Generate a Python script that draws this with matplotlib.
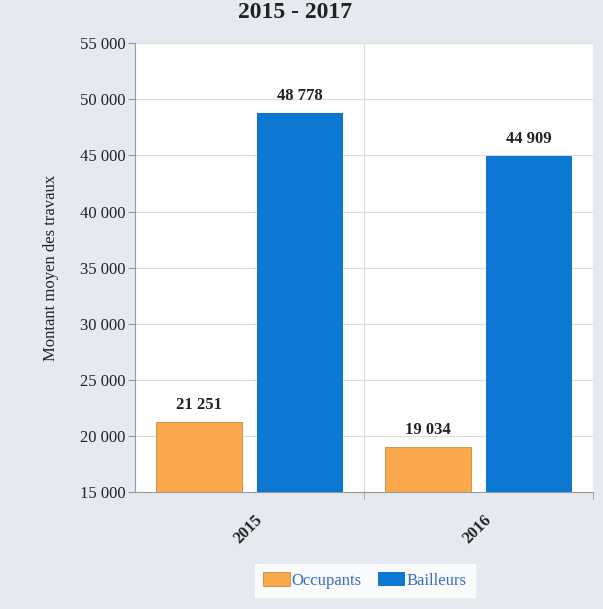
"""Montant moyen des travaux, occupants vs bailleurs, 2015-2016."""

import matplotlib.pyplot as plt
import numpy as np

years = ["2015", "2016"]
occupants = [21251, 19034]
bailleurs = [48778, 44909]
y_ticks = [15000, 20000, 25000, 30000, 35000, 40000, 45000, 50000, 55000]


def fmt(v):
    return f"{v:,}".replace(",", " ")


plt.rcParams["font.family"] = ["Liberation Serif", "DejaVu Serif"]

fig = plt.figure(figsize=(6.03, 6.09), dpi=100, facecolor="#e5e9f0")
ax = fig.add_axes([0.224, 0.192, 0.759, 0.737])
ax.set_facecolor("white")

centers = np.arange(len(years)) + 0.5
width = 0.375
offset = 0.22
ax.bar(centers - offset, occupants, width, color="#f9a94b",
       edgecolor="#c98a3c", linewidth=0.6, label="Occupants", zorder=3)
ax.bar(centers + offset, bailleurs, width, color="#0c78d2",
       label="Bailleurs", zorder=3)

for x, v in zip(centers - offset, occupants):
    ax.text(x, v + 800, fmt(v), ha="center", va="bottom",
            fontsize=12, fontweight="bold", color="#222222")
for x, v in zip(centers + offset, bailleurs):
    ax.text(x, v + 800, fmt(v), ha="center", va="bottom",
            fontsize=12, fontweight="bold", color="#222222")

ax.set_xlim(0, len(years))
ax.set_ylim(15000, 55000)
ax.set_yticks(y_ticks)
ax.set_yticklabels([fmt(t) for t in y_ticks], fontsize=12, color="#222222")
ax.set_xticks(centers + 0.02)
ax.set_xticklabels(years, rotation=45, ha="right", rotation_mode="anchor",
                   fontsize=12, fontweight="bold", color="#222222")
ax.tick_params(axis="x", length=0, pad=14)
ax.set_xticks([1, 2], minor=True)
ax.tick_params(axis="x", which="minor", length=5, color="#999999")
ax.tick_params(axis="y", length=5, color="#999999", pad=2)

ax.grid(axis="y", color="#dddddd", linewidth=0.8, zorder=0)
ax.grid(axis="x", which="minor", color="#dddddd", linewidth=0.8, zorder=0)
for side in ("top", "right"):
    ax.spines[side].set_visible(False)
for side in ("left", "bottom"):
    ax.spines[side].set_color("#999999")

ax.set_ylabel("Montant moyen des travaux", fontsize=12, color="#222222",
              labelpad=15)

leg = fig.legend(loc="center", bbox_to_anchor=(0.605, 0.047), ncol=2,
                 frameon=True, fancybox=False, edgecolor="white",
                 facecolor="white", fontsize=12, handlelength=1.6,
                 handleheight=0.9, columnspacing=1.0, handletextpad=0.1,
                 borderpad=0.5)
for t in leg.get_texts():
    t.set_color("#3b6cc0")

fig.text(0.49, 1 - 18 / 609, "2015 - 2017", ha="center", va="baseline",
         fontsize=17, fontweight="bold", color="#222222")

fig.savefig("out.png", dpi=100, facecolor=fig.get_facecolor())
